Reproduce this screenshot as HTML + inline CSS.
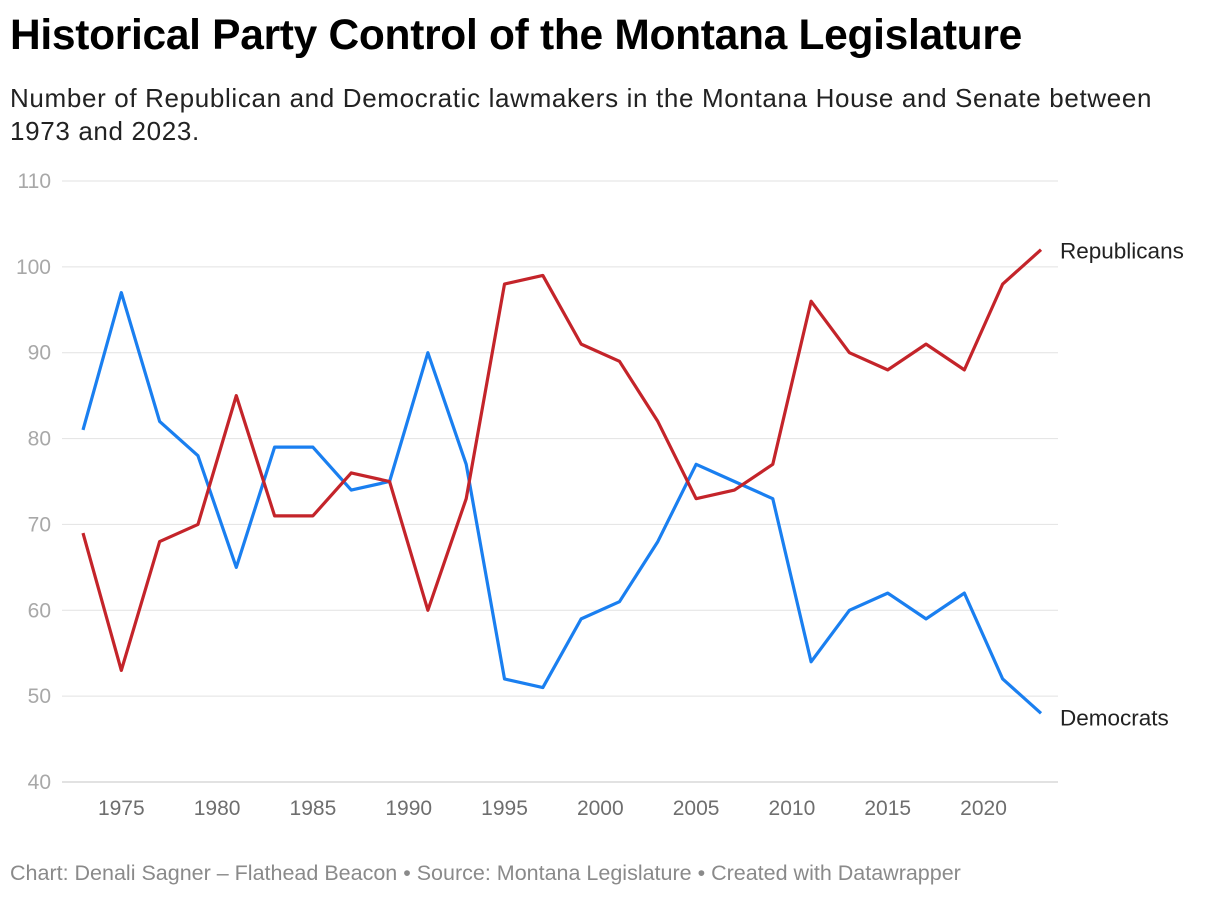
<!DOCTYPE html>
<html><head><meta charset="utf-8">
<style>
body{margin:0;background:#fff;font-family:"Liberation Sans",Arial,sans-serif;width:1220px;height:898px;overflow:hidden;position:relative}
#title{position:absolute;left:10px;top:12px;font-size:42.5px;font-weight:bold;color:#000;letter-spacing:-0.3px}
#subtitle{position:absolute;left:10px;top:82px;font-size:26px;line-height:33px;color:#222;width:1178px;letter-spacing:0.65px}
#footer{position:absolute;left:10px;top:861px;font-size:21.5px;color:#8a8a8a}
svg{position:absolute;left:0;top:0}
</style></head><body>
<div id="title">Historical Party Control of the Montana Legislature</div>
<div id="subtitle">Number of Republican and Democratic lawmakers in the Montana House and Senate between<br>1973 and 2023.</div>
<svg id="chart" width="1220" height="898"></svg>
<div id="footer">Chart: Denali Sagner – Flathead Beacon • Source: Montana Legislature • Created with Datawrapper</div>
<script>
const years=[1973,1975,1977,1979,1981,1983,1985,1987,1989,1991,1993,1995,1997,1999,2001,2003,2005,2007,2009,2011,2013,2015,2017,2019,2021,2023];
const republicans=[69,53,68,70,85,71,71,76,75,60,73,98,99,91,89,82,73,74,77,96,90,88,91,88,98,102];
const democrats=[81,97,82,78,65,79,79,74,75,90,77,52,51,59,61,68,77,75,73,54,60,62,59,62,52,48];
const yTicks=[40,50,60,70,80,90,100,110];
const xTicks=[1975,1980,1985,1990,1995,2000,2005,2010,2015,2020];
const NS="http://www.w3.org/2000/svg";
const svg=document.getElementById('chart');
function x(v){return 83+(v-1973)*(1041-83)/50;}
function y(v){return 782-(v-40)*(782-181)/70;}
function mk(t,a){const e=document.createElementNS(NS,t);for(const k in a)e.setAttribute(k,a[k]);svg.appendChild(e);return e;}
yTicks.forEach(v=>{
  const l=mk('line',{x1:62,x2:1058,y1:y(v),y2:y(v),stroke:v===40?'#c4c4c4':'#e2e2e2','stroke-width':1});
  
  
  const t=mk('text',{x:51,y:y(v)+7,'text-anchor':'end','font-size':21,fill:'#a8a8a8','font-family':'Liberation Sans, sans-serif'});
  t.textContent=v;
  
  
});
xTicks.forEach(v=>{
  const t=mk('text',{x:x(v),y:815,'text-anchor':'middle','font-size':21,fill:'#6e6e6e','font-family':'Liberation Sans, sans-serif'});
  t.textContent=v;
  
  
});
function series(vals,color,name,label,dy){
  const p=mk('polyline',{points:vals.map((v,i)=>x(years[i])+','+y(v)).join(' '),fill:'none',stroke:color,'stroke-width':3.2,'stroke-linejoin':'round'});
  
  
  const last=vals.length-1;
  const t=mk('text',{x:x(years[last])+19,y:y(vals[last])+dy,'font-size':22.5,fill:'#222','font-family':'Liberation Sans, sans-serif'});
  t.textContent=label;
  
  
}
series(democrats,'#1a7ff0','democrats','Democrats',12);
series(republicans,'#c4242a','republicans','Republicans',9);
</script>
</body></html>
